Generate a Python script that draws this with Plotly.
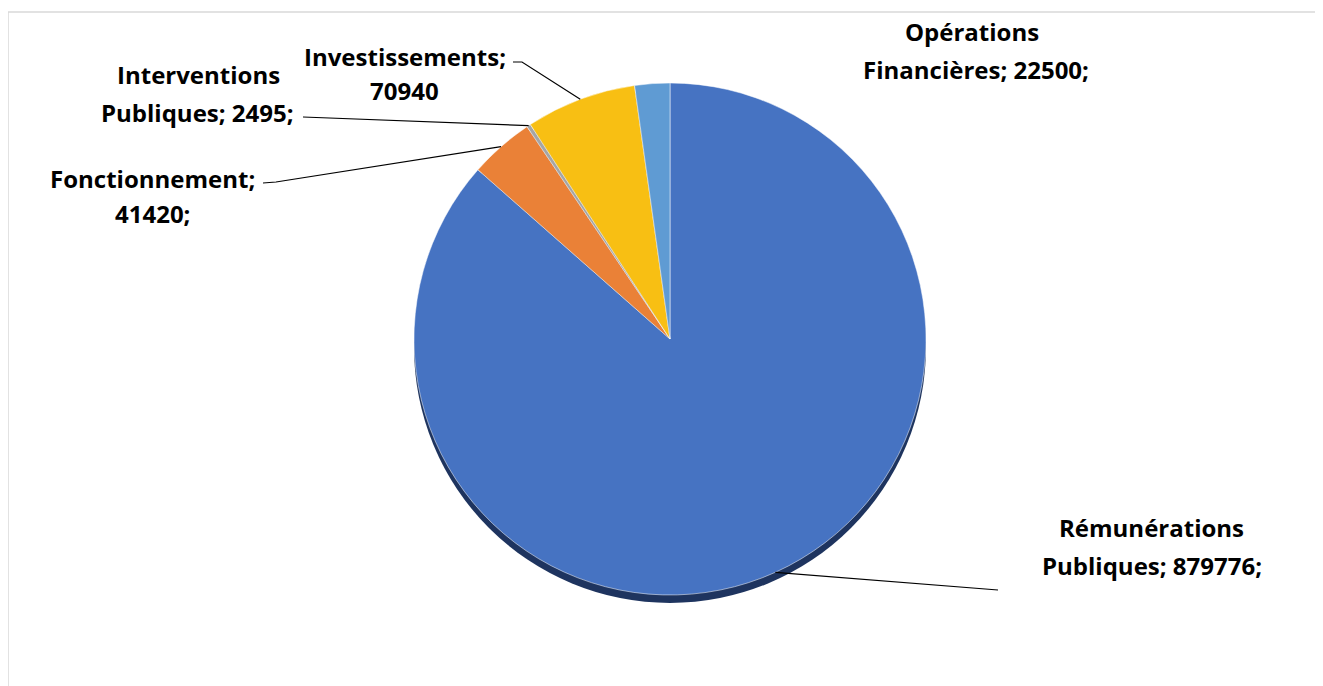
import math
import plotly.graph_objects as go

# ---- data ----
categories = ["Rémunérations Publiques", "Fonctionnement", "Interventions Publiques",
              "Investissements", "Opérations Financières"]
values = [879776, 41420, 2495, 70940, 22500]
label_lines = [
    ["Rémunérations", "Publiques; 879776;"],
    ["Fonctionnement;", "41420;"],
    ["Interventions", "Publiques; 2495;"],
    ["Investissements;", "70940"],
    ["Opérations", "Financières; 22500;"],
]
colors = ["#4673C2", "#EA8137", "#A5A5A5", "#F8BF13", "#5F9BD3"]

# ---- layout geometry (pixels, in window coordinates) ----
W, H = 1323, 686
OFF = 8  # page body margin
CX, CY, R = 670, 339, 256
SHADOW_DY = 8

def px(x):
    return (x - OFF) / W

def py(y):
    return 1 - (y - OFF) / H

fig = go.Figure()

# shadow (3D rim)
fig.add_trace(go.Pie(
    values=[1], marker=dict(colors=["#1E345F"], line=dict(width=0)),
    textinfo="none", hoverinfo="skip", sort=False, showlegend=False,
    domain=dict(x=[px(CX - R), px(CX + R)],
                y=[py(CY + SHADOW_DY + R), py(CY + SHADOW_DY - R)]),
))

fig.add_trace(go.Pie(
    labels=categories, values=values, sort=False, direction="clockwise", rotation=0,
    marker=dict(colors=colors, line=dict(color="white", width=0.5)),
    textinfo="none", showlegend=False,
    domain=dict(x=[px(CX - R), px(CX + R)], y=[py(CY + R), py(CY - R)]),
))

# label positions (pixel centres of each text line) and leader line end points
label_pos = [
    [(1151, 527), (1152, 565)],
    [(152, 178), (152, 214)],
    [(198, 75), (197, 112)],
    [(405, 56), (405, 90)],
    [(972, 32), (976, 70)],
]
leader_end = [
    [(998, 590)],
    [(276, 182), (263, 183)],
    [(303, 117)],
    [(522, 62), (513, 62)],
    None,
]

total = sum(values)
cum = 0
shapes = []
annotations = []
for i, v in enumerate(values):
    mid = (cum + v / 2) / total * 2 * math.pi
    cum += v
    ex = CX + R * math.sin(mid)
    ey = CY - R * math.cos(mid)
    if leader_end[i]:
        pts = [(ex, ey)] + leader_end[i]
        path = "M " + " L ".join(f"{px(x)},{py(y)}" for x, y in pts)
        shapes.append(dict(type="path", path=path, xref="paper", yref="paper",
                           line=dict(color="black", width=1.2)))
    for (lx, ly), txt in zip(label_pos[i], label_lines[i]):
        annotations.append(dict(
            x=px(lx), y=py(ly), xref="paper", yref="paper", text=txt, showarrow=False,
            xanchor="center", yanchor="middle",
            font=dict(family="Open Sans", size=24, color="black", weight="bold"),
        ))

# chart frame
shapes.append(dict(type="line", xref="paper", yref="paper",
                   x0=px(8), y0=py(12), x1=1, y1=py(12),
                   line=dict(color="#D9D9D9", width=1.5)))
shapes.append(dict(type="line", xref="paper", yref="paper",
                   x0=px(8), y0=py(12), x1=px(8), y1=0,
                   line=dict(color="#D9D9D9", width=1.5)))

fig.update_layout(
    width=W, height=H,
    margin=dict(l=0, r=0, t=0, b=0),
    paper_bgcolor="white", plot_bgcolor="white",
    shapes=shapes, annotations=annotations,
)

fig.write_html("out.html")
